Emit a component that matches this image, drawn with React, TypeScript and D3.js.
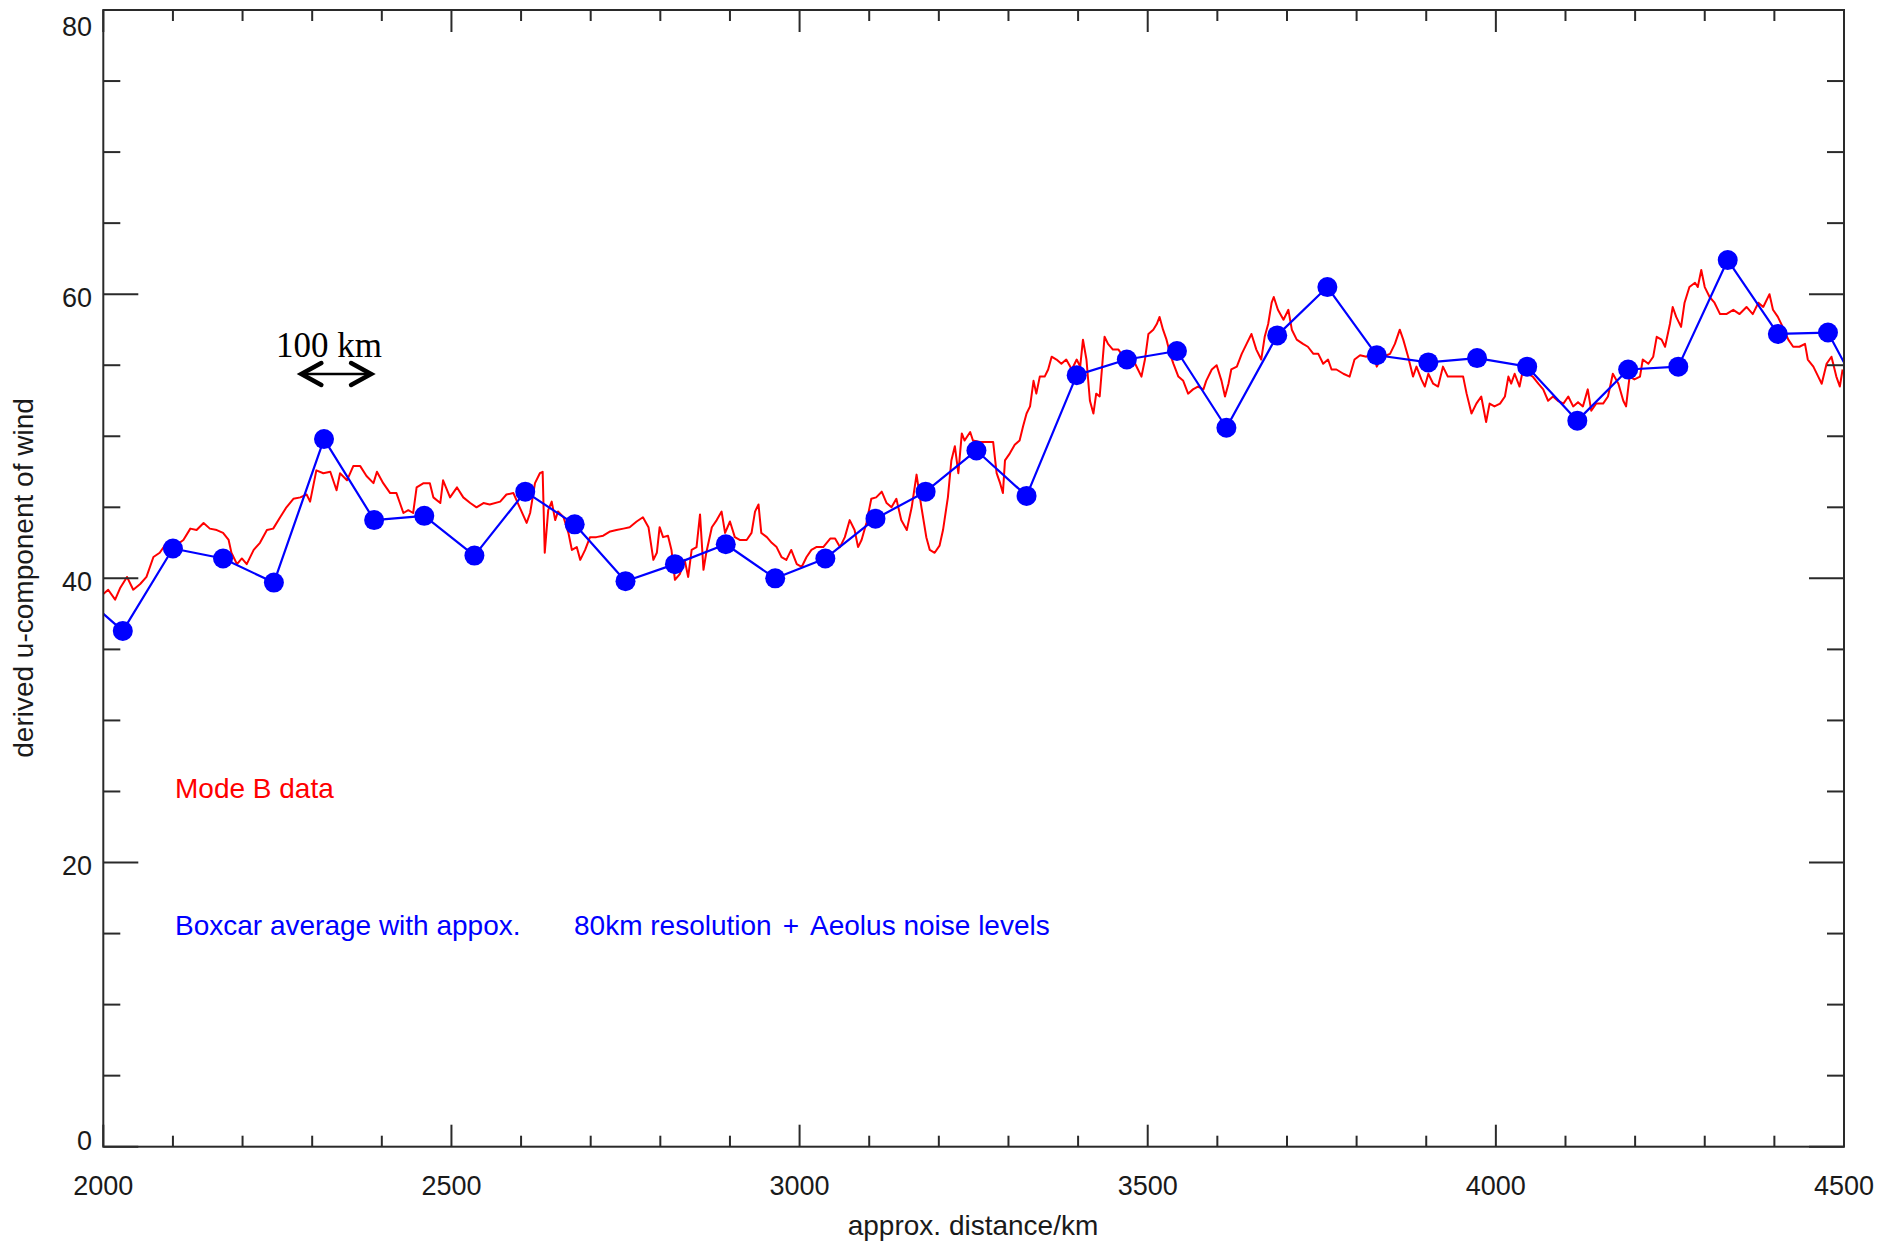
import React from "react";
import * as d3 from "d3";

// Canvas and plot frame
const WIDTH = 1879;
const HEIGHT = 1243;
const PLOT_LEFT = 103.3;
const PLOT_RIGHT = 1844;
const PLOT_TOP = 10;
const PLOT_BOTTOM = 1146.7;

// Axes
const xDomain: [number, number] = [2000, 4500];
const yDomain: [number, number] = [0, 80];
const xTickLabels = [2000, 2500, 3000, 3500, 4000, 4500];
const yTickLabels = [0, 20, 40, 60, 80];

// Mode B data: distance (km) and derived u-component of wind
const modeBKm = [
  2000, 2007, 2017, 2024, 2034, 2043, 2053, 2062, 2072, 2081, 2091, 2101, 2115, 2125, 2134, 2144, 2153, 2163, 2172, 2180,
  2184, 2192, 2199, 2206, 2216, 2225, 2235, 2244, 2254, 2263, 2273, 2283, 2292, 2297, 2306, 2316, 2326, 2335, 2340, 2350,
  2359, 2369, 2378, 2388, 2393, 2402, 2412, 2421, 2426, 2431, 2438, 2445, 2450, 2460, 2469, 2474, 2484, 2488, 2498, 2508,
  2517, 2527, 2536, 2546, 2555, 2570, 2579, 2589, 2598, 2608,
  2613, 2620, 2627, 2631, 2634, 2639, 2644, 2649, 2653, 2661, 2668, 2673, 2680, 2685, 2692, 2699, 2708, 2718, 2728, 2737,
  2747, 2756, 2766, 2775, 2783, 2790, 2795, 2799, 2804, 2811, 2816, 2821, 2828, 2835, 2840, 2845, 2852, 2857, 2862, 2866,
  2874, 2881, 2888, 2893, 2900, 2907, 2914, 2924, 2931, 2936, 2941, 2945, 2953, 2960, 2967, 2974, 2981, 2988, 2996, 3003,
  3010, 3017, 3024, 3034, 3044, 3051, 3058, 3065, 3072, 3079, 3084, 3089, 3096, 3103, 3110, 3118, 3125, 3132, 3139, 3146,
  3154, 3161, 3168, 3175, 3182, 3187, 3194, 3201, 3206, 3213, 3218, 3223, 3228,
  3233, 3237, 3245, 3249, 3259, 3269, 3278, 3283, 3288, 3292, 3295, 3302, 3309, 3316, 3321, 3326, 3331, 3336, 3340, 3345,
  3352, 3357, 3362, 3369, 3376, 3383, 3391, 3398, 3403, 3407, 3412, 3417, 3422, 3426, 3431, 3438, 3443, 3450, 3458, 3465,
  3472, 3479, 3486, 3491, 3496, 3501, 3508, 3513, 3517, 3522, 3527, 3532, 3537, 3544, 3551, 3558, 3565, 3572, 3580, 3584,
  3592, 3599, 3606, 3611, 3616, 3620, 3628, 3635, 3642, 3649, 3656, 3663, 3668, 3673, 3678, 3681, 3687, 3695, 3702, 3707,
  3714, 3723, 3730, 3738, 3745, 3752, 3759, 3764, 3771, 3781, 3790, 3797, 3805, 3814, 3824, 3829, 3836, 3843,
  3848, 3855, 3862, 3867, 3874, 3881, 3886, 3893, 3898, 3903, 3910, 3917, 3924, 3931, 3939, 3946, 3953, 3958, 3965, 3972,
  3979, 3986, 3991, 3998, 4006, 4013, 4018, 4022, 4027, 4034, 4039, 4046, 4053, 4061, 4068, 4075, 4082, 4089, 4097, 4104,
  4111, 4118, 4125, 4132, 4137, 4144, 4154, 4161, 4168, 4176, 4183, 4187, 4192, 4199, 4207, 4211, 4219, 4226, 4231, 4238,
  4243, 4250, 4254, 4259, 4266, 4271, 4278, 4286, 4290, 4295, 4300, 4307, 4314, 4322, 4331, 4341, 4350, 4360, 4369, 4377,
  4384, 4393, 4398, 4405, 4412, 4420, 4427, 4436, 4444, 4448, 4456, 4463, 4468, 4475, 4482, 4489, 4494, 4498,
];

const modeBWind = [
  38.9, 39.2, 38.5, 39.3, 40.1, 39.2, 39.6, 40.1, 41.5, 41.8, 42.5, 42.2, 42.7, 43.5, 43.4, 43.9, 43.5, 43.4, 43.2, 42.7,
  41.8, 41.0, 41.4, 41.0, 42.0, 42.5, 43.4, 43.5, 44.3, 45.0, 45.6, 45.7, 45.9, 45.4, 47.6, 47.4, 47.5, 46.2, 47.4, 46.9,
  47.9, 47.9, 47.2, 46.7, 47.5, 46.7, 46.0, 46.0, 45.3, 44.6, 44.8, 44.6, 46.4, 46.7, 46.7, 45.7, 45.3, 46.9, 45.7, 46.4,
  45.7, 45.3, 45.0, 45.3, 45.2, 45.4, 45.9, 46.0, 45.0, 43.9,
  44.6, 46.7, 47.4, 47.5, 41.8, 44.8, 45.4, 44.1, 44.7, 44.3, 43.2, 42.0, 42.2, 41.3, 42.0, 42.9, 42.9, 43.0, 43.3, 43.4,
  43.5, 43.6, 44.0, 44.3, 43.6, 41.3, 41.8, 43.6, 42.9, 43.0, 42.0, 39.9, 40.3, 41.3, 40.1, 42.0, 42.2, 44.5, 40.6, 41.8,
  43.6, 44.1, 44.7, 43.2, 44.0, 42.9, 42.7, 42.7, 43.2, 44.7, 45.2, 43.2, 42.9, 42.5, 42.2, 41.5, 41.3, 42.0, 41.0, 40.8,
  41.5, 42.0, 42.2, 42.2, 42.8, 42.8, 42.2, 42.9, 44.1, 43.4, 42.2, 42.7, 43.9, 45.6, 45.7, 46.1, 45.3, 45.0, 45.6, 44.1,
  43.4, 45.0, 47.3, 45.0, 42.9, 42.0, 41.8, 42.3, 43.4, 45.7, 48.3, 49.3, 47.4,
  50.2, 49.7, 50.3, 49.7, 49.6, 49.6, 49.6, 47.4, 46.7, 46.0, 48.3, 48.8, 49.4, 49.7, 50.7, 51.6, 52.1, 53.9, 53.0, 54.2,
  54.2, 54.7, 55.6, 55.4, 55.1, 55.4, 54.7, 55.4, 54.9, 56.8, 55.4, 52.5, 51.6, 53.0, 52.8, 57.0, 56.5, 56.1, 56.1, 55.6,
  55.6, 55.4, 54.7, 54.2, 55.4, 57.2, 57.5, 57.9, 58.4, 57.5, 56.8, 55.8, 55.1, 54.2, 53.9, 53.0, 53.3, 53.5, 53.3, 53.9,
  54.7, 55.0, 53.9, 52.8, 53.7, 54.7, 54.9, 55.8, 56.5, 57.2, 56.1, 55.4, 57.0, 57.9, 59.4, 59.8, 58.9, 58.2, 58.9, 57.5,
  56.8, 56.5, 56.3, 55.8, 55.8, 55.1, 55.4, 54.7, 54.7, 54.4, 54.2, 55.4, 55.7, 55.6, 55.8, 54.9, 55.6, 55.7,
  55.8, 56.5, 57.5, 56.8, 55.6, 54.2, 54.9, 54.0, 53.5, 54.4, 53.7, 53.5, 54.9, 54.2, 54.2, 54.2, 54.2, 53.0, 51.6, 52.3,
  52.8, 51.0, 52.3, 52.1, 52.3, 52.8, 54.2, 53.7, 54.4, 53.5, 54.7, 54.4, 54.2, 53.7, 53.3, 52.5, 52.8, 52.5, 52.3, 52.8,
  52.1, 52.4, 52.1, 53.3, 51.8, 52.3, 52.3, 52.8, 54.4, 53.7, 52.5, 52.1, 54.2, 54.0, 54.2, 55.4, 55.1, 55.6, 57.0, 56.8,
  56.3, 57.9, 59.1, 58.4, 57.7, 59.4, 60.5, 60.8, 60.5, 61.7, 60.5, 59.8, 59.4, 58.6, 58.6, 58.9, 58.6, 59.1, 58.6, 59.4,
  59.1, 60.0, 58.9, 58.4, 57.7, 56.8, 56.3, 56.3, 56.5, 55.4, 54.9, 54.2, 53.7, 55.1, 55.6, 54.2, 53.5, 54.7,
];

// Boxcar average (approx. 80 km resolution + Aeolus noise levels)
const boxcarKm = [
  1956, 2028, 2100, 2172, 2245, 2317, 2389, 2461, 2533, 2606, 2677, 2750, 2821, 2894, 2965, 3037, 3109, 3181, 3254,
  3326, 3398, 3470, 3542, 3613, 3686, 3758, 3829, 3903, 3973, 4045, 4117, 4190, 4262, 4333, 4405, 4477, 4549,
];
const boxcarWind = [
  39.4, 36.3, 42.1, 41.4, 39.7, 49.8, 44.1, 44.4, 41.6, 46.1, 43.8, 39.8, 41.0, 42.4, 40.0, 41.4, 44.2, 46.1, 49.0,
  45.8, 54.3, 55.4, 56.0, 50.6, 57.1, 60.5, 55.7, 55.2, 55.5, 54.9, 51.1, 54.7, 54.9, 62.4, 57.2, 57.3, 50.7,
];

// Scale-bar annotation span (km)
const scaleBarKm: [number, number] = [2283, 2386];

const RED = "#ff0000";
const BLUE = "#0000ff";
const AXIS = "#2a2a2a";
const SANS = "'Liberation Sans', Arial, Helvetica, sans-serif";
const SERIF = "'Liberation Serif', 'Times New Roman', serif";

export default function App() {
  const x = d3.scaleLinear().domain(xDomain).range([PLOT_LEFT, PLOT_RIGHT]);
  const y = d3.scaleLinear().domain(yDomain).range([PLOT_BOTTOM, PLOT_TOP]);

  const line = d3
    .line<[number, number]>()
    .x((d) => x(d[0]))
    .y((d) => y(d[1]));

  const modeB: [number, number][] = modeBKm.map((k, i) => [k, modeBWind[i]]);
  const boxcar: [number, number][] = boxcarKm.map((k, i) => [k, boxcarWind[i]]);
  const boxcarVisible = boxcar.filter((d) => d[0] >= xDomain[0] && d[0] <= xDomain[1]);

  const xTicks = d3.range(xDomain[0], xDomain[1] + 1, 100);
  const yTicks = d3.range(yDomain[0], yDomain[1] + 1, 5);

  // vertical nudges of the end labels on the y axis
  const yLabelNudge: Record<number, number> = { 80: 13, 0: -9 };

  const arrowY = 374;
  const ax0 = x(scaleBarKm[0]);
  const ax1 = x(scaleBarKm[1]);

  return (
    <svg
      width={WIDTH}
      height={HEIGHT}
      viewBox={`0 0 ${WIDTH} ${HEIGHT}`}
      style={{ position: "absolute", left: 0, top: 0, background: "#fff" }}
    >
      <defs>
        <clipPath id="plot-clip">
          <rect x={PLOT_LEFT} y={PLOT_TOP} width={PLOT_RIGHT - PLOT_LEFT} height={PLOT_BOTTOM - PLOT_TOP} />
        </clipPath>
      </defs>
      <rect x={0} y={0} width={WIDTH} height={HEIGHT} fill="#fff" />

      {/* data */}
      <g clipPath="url(#plot-clip)">
        <path d={line(modeB) || ""} fill="none" stroke={RED} strokeWidth={2} strokeLinejoin="round" />
        <path d={line(boxcar) || ""} fill="none" stroke={BLUE} strokeWidth={2.2} strokeLinejoin="round" />
      </g>
      {boxcarVisible.map((d, i) => (
        <circle key={i} cx={x(d[0])} cy={y(d[1])} r={10} fill={BLUE} />
      ))}

      {/* frame */}
      <rect
        x={PLOT_LEFT}
        y={PLOT_TOP}
        width={PLOT_RIGHT - PLOT_LEFT}
        height={PLOT_BOTTOM - PLOT_TOP}
        fill="none"
        stroke={AXIS}
        strokeWidth={2}
      />

      {/* x ticks, bottom and top */}
      {xTicks.map((t) => {
        const len = t % 500 === 0 ? 22 : 11;
        const px = x(t);
        return (
          <g key={"xt" + t} stroke={AXIS} strokeWidth={2}>
            <line x1={px} x2={px} y1={PLOT_BOTTOM} y2={PLOT_BOTTOM - len} />
            <line x1={px} x2={px} y1={PLOT_TOP} y2={PLOT_TOP + len} />
          </g>
        );
      })}
      {/* y ticks, left and right */}
      {yTicks.map((t) => {
        const len = t % 20 === 0 ? 35 : 17;
        const py = y(t);
        return (
          <g key={"yt" + t} stroke={AXIS} strokeWidth={2}>
            <line x1={PLOT_LEFT} x2={PLOT_LEFT + len} y1={py} y2={py} />
            <line x1={PLOT_RIGHT} x2={PLOT_RIGHT - len} y1={py} y2={py} />
          </g>
        );
      })}

      {/* tick labels */}
      {xTickLabels.map((t) => (
        <text key={"xl" + t} x={x(t)} y={1195} textAnchor="middle" fontFamily={SANS} fontSize={27} fill="#1a1a1a">
          {t}
        </text>
      ))}
      {yTickLabels.map((t) => (
        <text
          key={"yl" + t}
          x={92}
          y={y(t) + 3 + (yLabelNudge[t] || 0) + 9.7}
          textAnchor="end"
          fontFamily={SANS}
          fontSize={27}
          fill="#1a1a1a"
        >
          {t}
        </text>
      ))}

      {/* axis titles */}
      <text x={973} y={1235} textAnchor="middle" fontFamily={SANS} fontSize={28} fill="#1a1a1a">
        approx. distance/km
      </text>
      <text
        transform="translate(33,578) rotate(-90)"
        textAnchor="middle"
        fontFamily={SANS}
        fontSize={28}
        fill="#1a1a1a"
      >
        derived u-component of wind
      </text>

      {/* legend */}
      <text x={175} y={798} fontFamily={SANS} fontSize={28} fill={RED}>
        Mode B data
      </text>
      <text x={175} y={935} fontFamily={SANS} fontSize={28} fill={BLUE}>
        Boxcar average with appox.
      </text>
      <text x={574} y={935} fontFamily={SANS} fontSize={28} fill={BLUE}>
        80km resolution
        <tspan dx={11}>+</tspan>
        <tspan dx={11}>Aeolus noise levels</tspan>
      </text>

      {/* 100 km scale bar */}
      <text x={276} y={357} fontFamily={SERIF} fontSize={35} fill="#000">
        100 km
      </text>
      <g stroke="#000" fill="none" strokeLinecap="round" strokeLinejoin="miter">
        <line x1={ax0 + 2} x2={ax1 - 2} y1={arrowY} y2={arrowY} strokeWidth={2.5} />
        <path d={`M${ax0 + 21},${arrowY - 11} L${ax0 + 1},${arrowY} L${ax0 + 21},${arrowY + 11}`} strokeWidth={4.5} />
        <path d={`M${ax1 - 21},${arrowY - 11} L${ax1 - 1},${arrowY} L${ax1 - 21},${arrowY + 11}`} strokeWidth={4.5} />
      </g>
    </svg>
  );
}
